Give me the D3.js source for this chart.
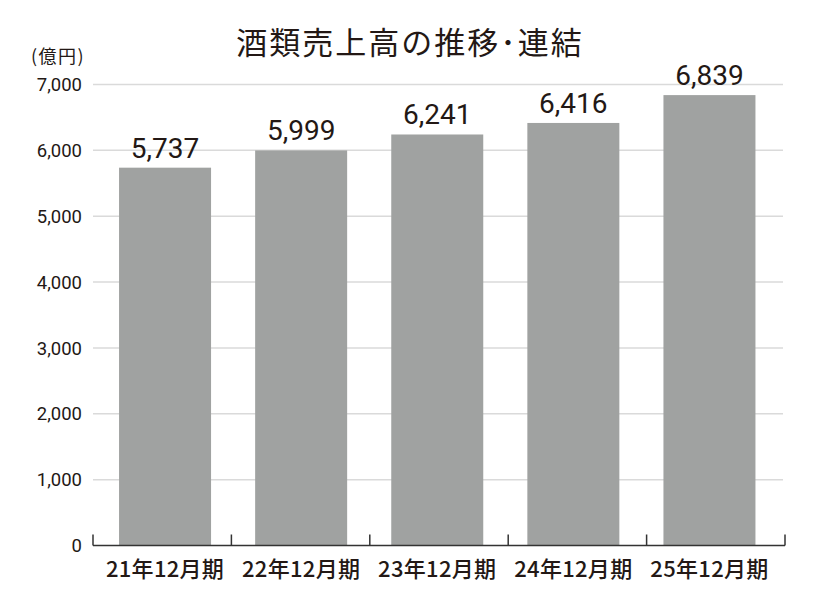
<!DOCTYPE html>
<html>
<head>
<meta charset="utf-8">
<script src="https://cdn.jsdelivr.net/npm/d3@7"></script>
<style>
  body { margin: 0; background: #fff; }
  text { fill: #231815; }
</style>
</head>
<body>
<div id="chart"></div>
<script>
// Data
var periods = ["21年12月期", "22年12月期", "23年12月期", "24年12月期", "25年12月期"];
var sales = [5737, 5999, 6241, 6416, 6839];
var yTicks = [0, 1000, 2000, 3000, 4000, 5000, 6000, 7000];

var width = 820, height = 604;
var plotLeft = 93, plotRight = 785, plotBottom = 545.5, plotTop = 84.5;

var svg = d3.select("#chart")
    .append("svg")
    .attr("width", width)
    .attr("height", height);

// Title
svg.append("text")
    .attr("x", 410)
    .attr("y", 54)
    .attr("text-anchor", "middle")
    .style("font-family", "'Noto Sans CJK JP'")
    .style("font-size", "31px")
    .style("letter-spacing", "2px")
    .text("酒類売上高の推移･連結");

// Unit label
svg.append("text")
    .attr("x", 31)
    .attr("y", 63)
    .style("font-family", "'Noto Sans CJK JP'")
    .style("font-size", "18px")
    .style("letter-spacing", "1.5px")
    .text("(億円)");

var y = d3.scaleLinear()
    .domain([0, 7000])
    .range([plotBottom, plotTop]);

// bars sit on their own band scale, the axis ticks on another one
var x = d3.scaleBand()
    .domain(periods)
    .range([97, 777.5])
    .paddingInner(0.324)
    .paddingOuter(0.162);

var xAxisScale = d3.scaleBand()
    .domain(periods)
    .range([plotLeft, plotRight]);

// Gridlines
svg.append("g")
    .selectAll("line")
    .data(yTicks.filter(function(d) { return d > 0; }))
    .enter().append("line")
    .attr("x1", plotLeft)
    .attr("x2", 783)
    .attr("y1", function(d) { return y(d); })
    .attr("y2", function(d) { return y(d); })
    .attr("stroke", "#dadada")
    .attr("stroke-width", 1.5);

// Y tick labels
svg.append("g")
    .selectAll("text")
    .data(yTicks)
    .enter().append("text")
    .attr("x", 82)
    .attr("y", function(d) { return y(d); })
    .attr("dy", "0.36em")
    .attr("text-anchor", "end")
    .style("font-family", "Roboto")
    .style("font-size", "18.5px")
    .text(function(d) { return d3.format(",")(d); });

// Bars
svg.append("g")
    .selectAll("rect")
    .data(sales)
    .enter().append("rect")
    .attr("x", function(d, i) { return x(periods[i]); })
    .attr("y", function(d) { return y(d); })
    .attr("width", x.bandwidth())
    .attr("height", function(d) { return y(0) - y(d); })
    .attr("fill", "#a0a2a1");

// Value labels
svg.append("g")
    .selectAll("text")
    .data(sales)
    .enter().append("text")
    .attr("x", function(d, i) { return x(periods[i]) + x.bandwidth() / 2; })
    .attr("y", function(d) { return y(d) - 10; })
    .attr("text-anchor", "middle")
    .style("font-family", "Roboto")
    .style("font-size", "28px")
    .text(function(d) { return d3.format(",")(d); });

// X axis: baseline and upward ticks at band edges
var axis = svg.append("g");
axis.append("line")
    .attr("x1", plotLeft)
    .attr("x2", plotRight)
    .attr("y1", plotBottom)
    .attr("y2", plotBottom)
    .attr("stroke", "#333")
    .attr("stroke-width", 1.5);

var edges = periods.map(function(p) { return xAxisScale(p); }).concat([plotRight]);
axis.selectAll(".tick")
    .data(edges)
    .enter().append("line")
    .attr("class", "tick")
    .attr("x1", function(d) { return d; })
    .attr("x2", function(d) { return d; })
    .attr("y1", plotBottom)
    .attr("y2", plotBottom - 11)
    .attr("stroke", "#333")
    .attr("stroke-width", 1.5);

axis.selectAll(".xlabel")
    .data(periods)
    .enter().append("text")
    .attr("class", "xlabel")
    .attr("x", function(d) { return x(d) + x.bandwidth() / 2; })
    .attr("y", 577)
    .attr("text-anchor", "middle")
    .style("font-family", "'Noto Sans CJK JP'")
    .style("font-size", "22px")
    .style("font-weight", 500)
    .style("letter-spacing", "0.3px")
    .text(function(d) { return d; });
</script>
</body>
</html>
